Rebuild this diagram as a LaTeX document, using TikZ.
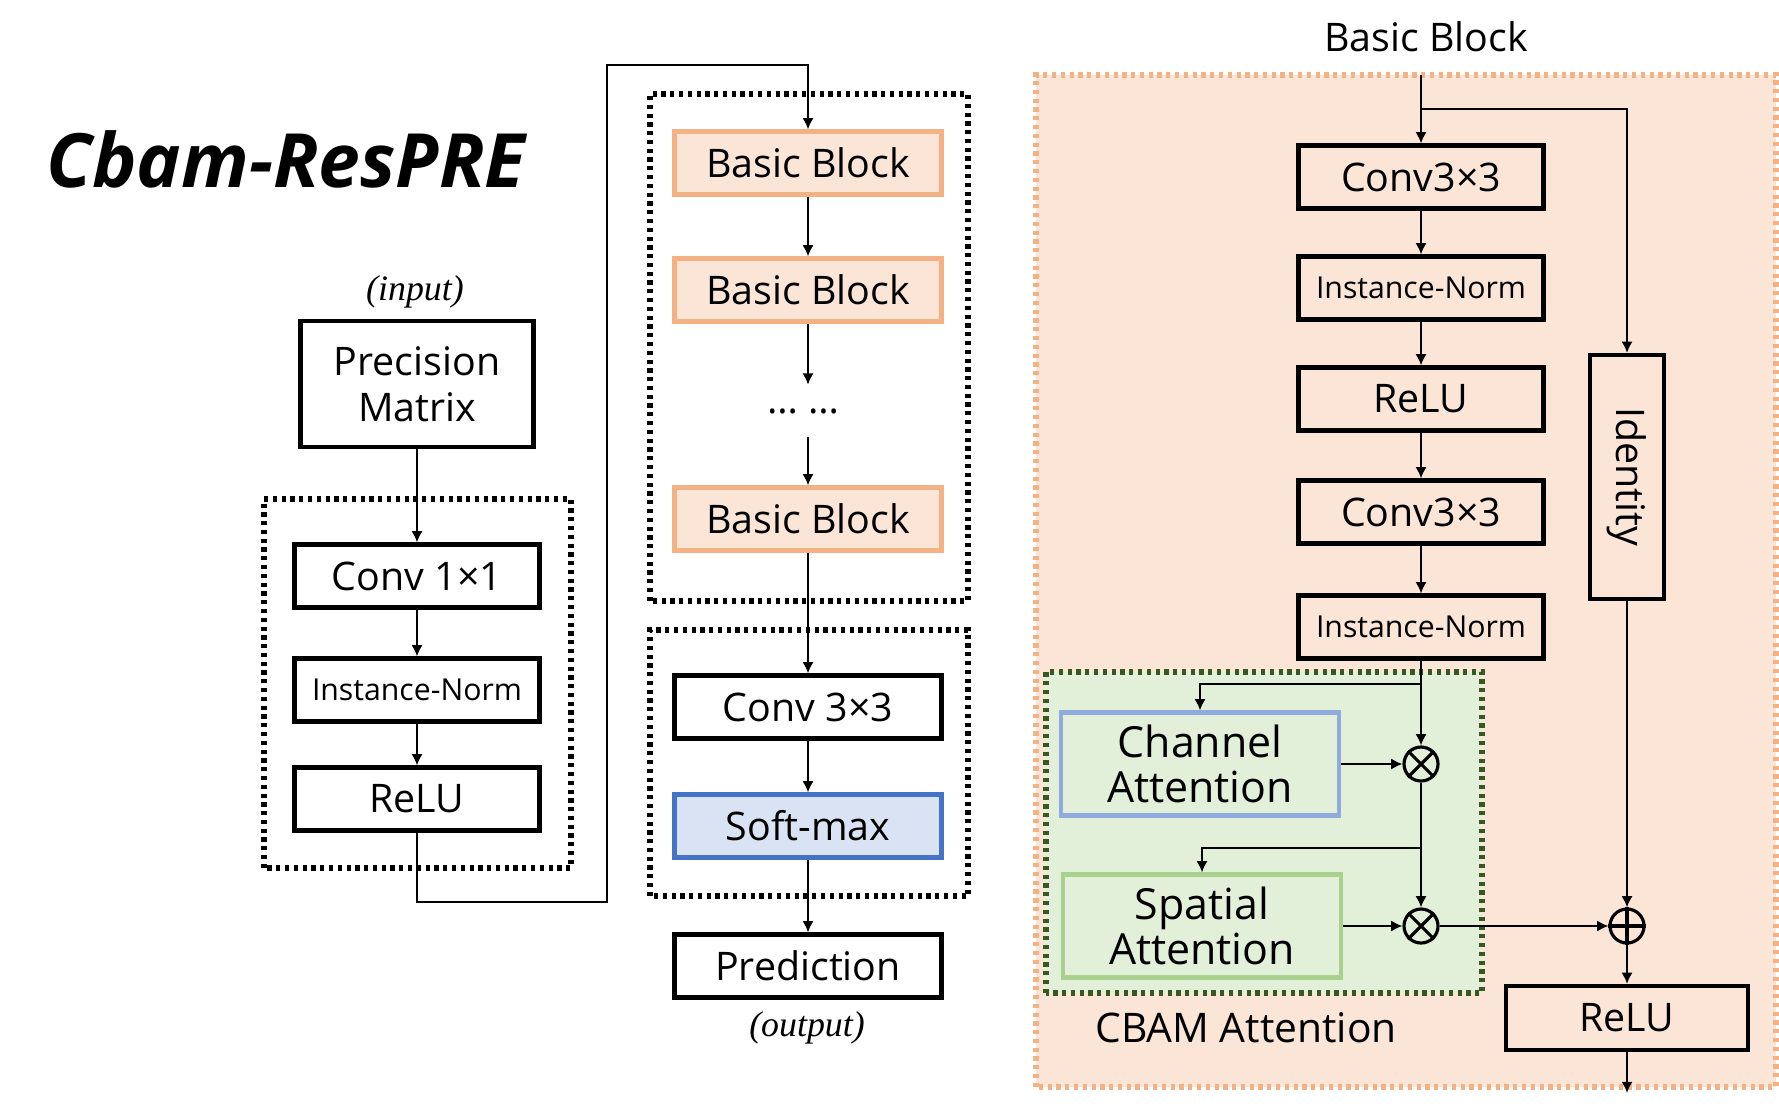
\documentclass[tikz,border=0pt]{standalone}
\usepackage{fontspec}
\setmainfont{Open Sans}
\newfontfamily\capfont{Liberation Serif}
\usetikzlibrary{arrows.meta}
\tikzset{>={Latex[length=3.2pt,width=3.2pt]}}

\definecolor{peach}{HTML}{FBE5D6}
\definecolor{peachline}{HTML}{F4B183}
\definecolor{mint}{HTML}{E2F0D9}
\definecolor{darkgreen}{HTML}{385723}
\definecolor{skyline}{HTML}{8FAADC}
\definecolor{leafline}{HTML}{A9D18E}
\definecolor{paleblue}{HTML}{DAE3F3}
\definecolor{blueline}{HTML}{4472C4}

\begin{document}
\begin{tikzpicture}[line width=0.75pt, font=\fontsize{11.2}{13}\selectfont]

  \tikzset{blk/.style={draw, line width=1.2pt, minimum width=2.45cm,
                       minimum height=0.63cm, inner sep=1pt},
           small/.style={font=\fontsize{8.6}{10}\selectfont},
           bb/.style={blk, draw=peachline, fill=peach, minimum width=2.67cm},
           att/.style={blk, fill=mint, minimum width=2.78cm,
                       minimum height=1.03cm, align=center,
                       font=\fontsize{12.2}{13}\selectfont},
           grp/.style={draw, line width=1.5pt, dash pattern=on 1.2pt off 1.3pt},
           op/.style={draw, circle, line width=0.9pt, minimum size=0.34cm,
                      inner sep=0pt},
           lbl/.style={font=\capfont\itshape\fontsize{10.2}{12}\selectfont}}

  \useasboundingbox (0,0) rectangle (17.79,11.10);

  % title
  \node[font=\fontsize{21.3}{24}\selectfont\bfseries\itshape] (title)
    at (2.86,9.51) {Cbam-ResPRE};

  % input stem
  \node[lbl] (inlbl) at (4.15,8.18) {(input)};
  \node[blk, minimum width=2.33cm, minimum height=1.26cm, align=center]
    (pm) at (4.17,7.26) {Precision\\Matrix};
  \draw[grp] (2.64,2.42) rectangle (5.71,6.11);
  \node[blk] (c1) at (4.17,5.34) {Conv 1×1};
  \node[blk, small] (in1) at (4.17,4.20) {Instance-Norm};
  \node[blk] (r1) at (4.17,3.11) {ReLU};
  \draw[->] (pm) -- (c1);
  \draw[->] (c1) -- (in1);
  \draw[->] (in1) -- (r1);

  % residual trunk
  \draw[grp] (6.50,5.09) rectangle (9.68,10.16);
  \node[bb] (b1) at (8.08,9.47) {Basic Block};
  \node[bb] (b2) at (8.08,8.20) {Basic Block};
  \node[minimum height=0.5cm] (dots) at (8.03,6.99) {… …};
  \node[bb] (b3) at (8.08,5.91) {Basic Block};
  \draw[->] (r1.south) |- (6.07,2.08) -- (6.07,10.45) -| (b1.north);
  \draw[->] (b1) -- (b2);
  \draw[->] (b2.south) -- (b2.south |- dots.north);
  \draw[->] (b3.north |- dots.south) -- (b3.north);

  % head
  \draw[grp] (6.50,2.14) rectangle (9.68,4.80);
  \node[blk, minimum width=2.67cm] (c3) at (8.08,4.03) {Conv 3×3};
  \node[blk, draw=blueline, fill=paleblue, minimum width=2.67cm]
    (sm) at (8.08,2.84) {Soft-max};
  \node[blk, minimum width=2.67cm] (pr) at (8.08,1.44) {Prediction};
  \node[lbl] (outlbl) at (8.07,0.82) {(output)};
  \draw[->] (b3) -- (c3);
  \draw[->] (c3) -- (sm);
  \draw[->] (sm) -- (pr);

  % basic block detail
  \fill[peach] (10.36,0.23) rectangle (17.76,10.35);
  \draw[grp, draw=peachline] (10.36,0.23) rectangle (17.76,10.35);
  \node (bbt) at (14.26,10.73) {Basic Block};
  \coordinate (top) at (14.21,10.35);
  \coordinate (split) at (14.21,10.01);
  \node[blk] (k1) at (14.21,9.33) {Conv3×3};
  \node[blk, small] (n1) at (14.21,8.22) {Instance-Norm};
  \node[blk] (k2) at (14.21,7.11) {ReLU};
  \node[blk] (k3) at (14.21,5.98) {Conv3×3};
  \node[blk, small] (n2) at (14.21,4.83) {Instance-Norm};
  \node[blk, minimum width=0.74cm, minimum height=2.44cm] (id)
    at (16.27,6.33) {};
  \node[rotate=-90] (idt) at (id.center) {Identity};
  \draw[->] (top) -- (k1);
  \draw[->] (split) -| (id.north);
  \draw[->] (k1) -- (n1);
  \draw[->] (n1) -- (k2);
  \draw[->] (k2) -- (k3);
  \draw[->] (k3) -- (n2);

  % CBAM attention
  \fill[mint] (10.46,1.17) rectangle (14.82,4.38);
  \draw[grp, draw=darkgreen] (10.46,1.17) rectangle (14.82,4.38);
  \node[att, draw=skyline] (ca) at (12.00,3.46) {Channel\\Attention};
  \node[att, draw=leafline] (sa) at (12.02,1.84) {Spatial\\Attention};
  \node[op] (m1) at (14.21,3.46) {};
  \node[op] (m2) at (14.21,1.84) {};
  \node[op] (ad) at (16.27,1.84) {};
  \draw[line width=0.9pt] (m1.north west) -- (m1.south east)
                          (m1.north east) -- (m1.south west);
  \draw[line width=0.9pt] (m2.north west) -- (m2.south east)
                          (m2.north east) -- (m2.south west);
  \draw[line width=0.9pt] (ad.north) -- (ad.south) (ad.west) -- (ad.east);
  \coordinate (s1) at (14.21,4.26);
  \coordinate (s2) at (14.21,2.62);
  \draw[->] (n2) -- (m1);
  \draw[->] (s1) -| (ca.north);
  \draw[->] (ca) -- (m1);
  \draw[->] (m1) -- (m2);
  \draw[->] (s2) -| (sa.north);
  \draw[->] (sa) -- (m2);
  \draw[->] (m2) -- (ad);
  \draw[->] (id) -- (ad);
  \node[blk, minimum width=2.42cm, minimum height=0.64cm] (r6)
    at (16.27,0.92) {ReLU};
  \coordinate (out) at (16.27,0.17);
  \draw[->] (ad) -- (r6);
  \draw[->] (r6) -- (out);
  \node[font=\fontsize{11.6}{13}\selectfont] (cbl) at (12.46,0.82) {CBAM Attention};

\end{tikzpicture}
\end{document}
